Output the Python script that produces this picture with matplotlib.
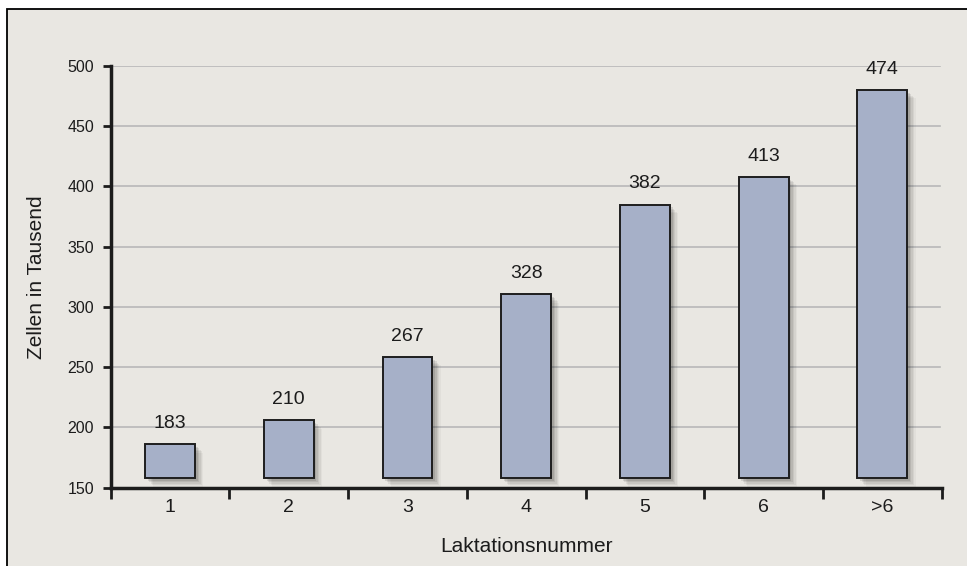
import matplotlib
matplotlib.use("Agg")
import matplotlib.pyplot as plt
import matplotlib.patheffects as pe
from matplotlib.patches import Rectangle

# data
categories = ["1", "2", "3", "4", "5", "6", ">6"]
bar_heights = [186, 206, 258.5, 310.5, 385, 408, 480]   # drawn bar tops
bar_labels = ["183", "210", "267", "328", "382", "413", "474"]
bar_base = 157.8
yticks = [150, 200, 250, 300, 350, 400, 450, 500]

plt.rcParams['font.family'] = ['Liberation Sans', 'DejaVu Sans']
txt = '#1c1c1c'
bg = '#e9e7e2'

fig = plt.figure(figsize=(9.67, 5.66), dpi=100)
fig.patch.set_facecolor('white')
# framed panel, open to the right and bottom edge of the image
fig.add_artist(Rectangle((7/967, -0.02), 1.05, 0.9836+0.02, transform=fig.transFigure,
                         facecolor=bg, edgecolor='black', lw=1.3, zorder=0))

ax = fig.add_axes([110.7/967, 78.3/566, 831/967, 421.7/566])
ax.set_facecolor('none')

x = list(range(len(categories)))
shadow = [pe.SimplePatchShadow(offset=(o, -o), shadow_rgbFace='black', alpha=a)
          for o, a in [(6, 0.03), (5, 0.05), (4, 0.06), (3, 0.08), (2, 0.1)]]
bars = ax.bar(x, [h - bar_base for h in bar_heights], bottom=bar_base, width=0.42,
              color='#a6b0c8', edgecolor='#1e1e1e', linewidth=1.4, zorder=3)
for b in bars:
    b.set_path_effects(shadow + [pe.Normal()])

for xi, h, lab in zip(x, bar_heights, bar_labels):
    ax.annotate(lab, (xi, h), xytext=(0, 15), textcoords='offset points',
                ha='center', va='center', fontsize=14, color=txt, zorder=4)

ax.set_xlim(-0.5, len(categories) - 0.5)
ax.set_ylim(150, 500)

# gridlines (not at the base line)
for y in yticks[1:]:
    ax.axhline(y, xmin=0, xmax=(940-110.7)/831, color='#b8b8b8', lw=1.2, zorder=1)

ax.set_yticks(yticks)
ax.tick_params(axis='y', direction='out', length=6, width=2, color=txt,
               labelsize=11.5, labelcolor=txt, pad=6)
ax.set_xticks(x)
ax.set_xticklabels(categories)
ax.set_xticks([i - 0.5 for i in range(len(categories) + 1)], minor=True)
ax.tick_params(axis='x', which='major', length=0, labelsize=14, labelcolor=txt, pad=8)
ax.tick_params(axis='x', which='minor', direction='out', length=8, width=2, color=txt)

for s in ['top', 'right']:
    ax.spines[s].set_visible(False)
for s in ['left', 'bottom']:
    ax.spines[s].set_linewidth(2.5)
    ax.spines[s].set_color(txt)

ax.set_ylabel('Zellen in Tausend', fontsize=15, color=txt, va='center')
ax.yaxis.set_label_coords((37 - 110.7) / 831, 0.5)
ax.set_xlabel('Laktationsnummer', fontsize=15, color=txt, va='center')
ax.xaxis.set_label_coords(0.5, (487.7 - 546.7) / 421.7)

fig.savefig('out.png', dpi=100)
